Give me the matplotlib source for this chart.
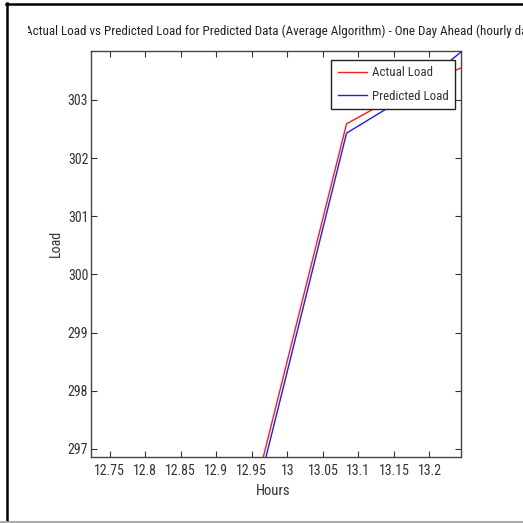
import matplotlib
matplotlib.use("Agg")
import matplotlib.pyplot as plt
from matplotlib.transforms import Bbox, TransformedBbox
from matplotlib.lines import Line2D

hours = [12.9167, 13.0, 13.0833, 13.1667, 13.25]
actual = [294.44, 298.52, 302.59, 303.15, 303.58]
predicted = [294.25, 298.34, 302.43, 303.05, 303.88]

xticks = [12.75, 12.8, 12.85, 12.9, 12.95, 13.0, 13.05, 13.1, 13.15, 13.2]
xtick_labels = ["12.75", "12.8", "12.85", "12.9", "12.95", "13", "13.05", "13.1", "13.15", "13.2"]
yticks = [297, 298, 299, 300, 301, 302, 303]
title = "Actual Load vs Predicted Load for Predicted Data (Average Algorithm) - One Day Ahead (hourly data)"

FONT = ["Roboto Condensed", "DejaVu Sans"]
plt.rcParams["font.family"] = FONT

W = H = 523
fig = plt.figure(figsize=(5.23, 5.23), dpi=100)
ax = fig.add_axes([91 / W, 1 - 457 / H, (461 - 91) / W, (457 - 51) / H])

ax.plot(hours, actual, color="#ff1a1a", lw=1.0, label="Actual Load")
ax.plot(hours, predicted, color="#1a1aff", lw=1.0, label="Predicted Load")
ax.set_xlim(12.7236, 13.2444)
ax.set_ylim(296.862, 303.842)
ax.set_xticks(xticks)
ax.set_xticklabels(xtick_labels)
ax.set_yticks(yticks)
ax.tick_params(direction="in", length=4, labelsize=10, top=True, right=True,
               width=0.8, colors="#333333", labelcolor="#333333")
ax.tick_params(axis="x", pad=5)
ax.tick_params(axis="y", pad=2)
for s in ax.spines.values():
    s.set_color("#444444")
    s.set_linewidth(1.0)
ax.set_xlabel("Hours", fontsize=10.5, color="#333333")
ax.set_ylabel("Load", fontsize=10, color="#333333")
ax.xaxis.set_label_coords((273 - 91) / 370, -(484 - 457) / 406)
ax.yaxis.set_label_coords((63 - 91) / 370, 1 - (243 - 51) / 406)

leg = ax.legend(loc="upper right", bbox_to_anchor=(455 / W, 1 - 60 / H),
                bbox_transform=fig.transFigure, borderaxespad=0,
                fontsize=9.3, fancybox=False, framealpha=1,
                edgecolor="#222222", handlelength=2.3,
                labelspacing=0.8, handletextpad=0.35, borderpad=0.5)
leg.get_frame().set_linewidth(1.0)
for t in leg.get_texts():
    t.set_color("#333333")

# title: sized so that "(hourly d" ends near the right edge, clipped on the left
cut = title.index("(hourly d") + len("(hourly d")
fig.canvas.draw()
r = fig.canvas.get_renderer()
probe = fig.text(0, 0, title[:cut], fontsize=10)
w = probe.get_window_extent(r).width
probe.remove()
fs = 10 * (515 - 25) / w
tt = fig.text(25 / W, 1 - 35 / H, title, fontsize=fs, ha="left", va="baseline",
              color="#222222", clip_on=True)
tt.set_clip_box(TransformedBbox(Bbox.from_extents(28 / W, 0, 1, 1), fig.transFigure))

# outer frame of the screenshot
fig.add_artist(Line2D([7 / W, 7 / W], [1 - 3 / H, 1 - 520 / H], transform=fig.transFigure,
                      color="black", lw=1.8))
fig.add_artist(Line2D([6 / W, 1], [1 - 3.5 / H, 1 - 3.5 / H], transform=fig.transFigure,
                      color="black", lw=1.8))
fig.add_artist(Line2D([0, 1], [1 - 521.5 / H, 1 - 521.5 / H], transform=fig.transFigure,
                      color="#999999", lw=1.2))

plt.savefig("out.png", dpi=100)
